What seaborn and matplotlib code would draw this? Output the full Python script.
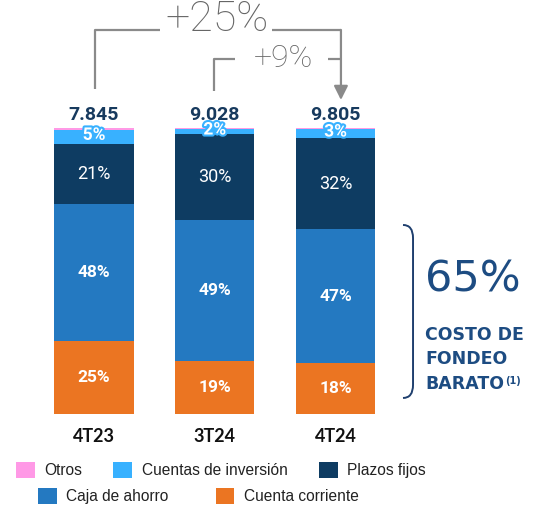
import matplotlib
matplotlib.use('Agg')
import matplotlib.pyplot as plt
import matplotlib.patheffects as pe
from matplotlib.patches import Patch, PathPatch
from matplotlib.path import Path
import pandas as pd
import seaborn as sns

# data (share of deposits, %)
periodos = ['4T23', '3T24', '4T24']
totales = ['7.845', '9.028', '9.805']
otros = [0.6, 0.4, 0.4]
cuentas_inversion = [5.1, 1.8, 3.2]
plazos_fijos = [20.9, 29.8, 31.7]
caja_ahorro = [48.0, 49.3, 46.9]
cuenta_corriente = [25.4, 18.7, 17.8]

series = ['Otros', 'Cuentas de inversión', 'Plazos fijos', 'Caja de ahorro', 'Cuenta corriente']
colores = {'Otros': '#ff99e6', 'Cuentas de inversión': '#38b1ff', 'Plazos fijos': '#0e3c62',
           'Caja de ahorro': '#2479c1', 'Cuenta corriente': '#eb7522'}

df = pd.DataFrame({'periodo': periodos, 'Otros': otros, 'Cuentas de inversión': cuentas_inversion,
                   'Plazos fijos': plazos_fijos, 'Caja de ahorro': caja_ahorro,
                   'Cuenta corriente': cuenta_corriente})

sns.set_theme(style='white')
plt.rcParams['font.family'] = ['Roboto', 'DejaVu Sans']

fig = plt.figure(figsize=(5.49, 5.08), dpi=100)
ax = fig.add_axes([0, 0, 1, 1])

# stacked bars: draw cumulative sums, tallest first
stack = series[::-1]  # bottom -> top
cum = df[stack].cumsum(axis=1)
for s in series:
    sns.barplot(x=df['periodo'], y=cum[s], color=colores[s], saturation=1, width=0.655,
                order=periodos, ax=ax, linewidth=0)

ax.set_xlim(-0.7785, 3.768)
ax.set_ylim(-32.87, 144.76)
ax.set_xlabel('')
ax.set_ylabel('')
ax.set_xticks([])
ax.set_yticks([])
sns.despine(ax=ax, left=True, bottom=True)

# category labels under the bars
for i, p in enumerate(periodos):
    ax.text(i, -7.7, p, ha='center', va='center', fontsize=13, fontweight='bold',
            color='#111111', family=['Lato', 'DejaVu Sans'])

# segment labels
for i in range(len(periodos)):
    base = 0
    for s in stack:
        v = df[s][i]
        mid = base + v / 2
        base += v
        if s == 'Otros':
            continue
        txt = f'{v:.0f}%'
        if s == 'Plazos fijos':
            ax.text(i, mid, txt, ha='center', va='center', color='white', fontsize=13)
        elif s == 'Cuentas de inversión':
            ax.text(i, mid + 0.6, txt, ha='center', va='center', color='white', fontsize=12.5,
                    fontweight='bold',
                    path_effects=[pe.withStroke(linewidth=3, foreground='#38b1ff')])
        else:
            ax.text(i, mid, txt, ha='center', va='center', color='white', fontsize=12.5,
                    fontweight='bold')
    ax.annotate(totales[i], (i, base), xytext=(0, 3), textcoords='offset points',
                ha='center', va='bottom', fontsize=14, fontweight='bold', color='#173a5e')

# growth brackets
gris = '#8a8a8a'
kw = dict(color=gris, lw=1.6, clip_on=False, solid_capstyle='butt')
ax.plot([0.008, 0.008, 0.546], [113.6, 134.3, 134.3], **kw)
ax.plot([1.473, 2.045], [134.3, 134.3], **kw)
ax.annotate('', xy=(2.045, 109.8), xytext=(2.045, 134.3),
            arrowprops=dict(arrowstyle='-|>,head_width=0.35,head_length=0.7', color=gris, lw=1.6,
                            shrinkA=0, shrinkB=0))
ax.text(1.02, 138.0, '+25%', ha='center', va='center', fontsize=31, color='#666666', fontweight='light')
ax.plot([0.994, 0.994, 1.168], [112.9, 124.1, 124.1], **kw)
ax.plot([1.938, 2.045], [124.1, 124.1], **kw)
ax.text(1.565, 124.2, '+9%', ha='center', va='center', fontsize=23, color='#666666', fontweight='light')

# brace on the right
verts = [(2.559, 66.1), (2.642, 66.1), (2.642, 61.5), (2.642, 10.2), (2.642, 5.6), (2.559, 5.6)]
codes = [Path.MOVETO, Path.CURVE3, Path.CURVE3, Path.LINETO, Path.CURVE3, Path.CURVE3]
ax.add_patch(PathPatch(Path(verts, codes), fill=False, edgecolor='#1f3f6e', lw=1.4, clip_on=False))

azul = '#1d4c82'
fam = ['DejaVu Sans']
ax.text(2.741, 46.9, '65%', ha='left', va='center', fontsize=31, color=azul,
        family=fam, fontweight='normal')
ax.text(2.741, 27.6, 'COSTO DE', ha='left', va='center', fontsize=12.5, color=azul,
        family=fam, fontweight='bold')
ax.text(2.741, 19.2, 'FONDEO', ha='left', va='center', fontsize=12.5, color=azul,
        family=fam, fontweight='bold')
t = ax.text(2.741, 10.6, 'BARATO', ha='left', va='center', fontsize=12.5, color=azul,
            family=fam, fontweight='bold')
ax.annotate('(1)', xy=(1, 0.95), xycoords=t, ha='left', va='top', fontsize=7, color=azul,
            family=fam, fontweight='bold', xytext=(0.5, 0), textcoords='offset points')

# legend in two rows
h = {s: Patch(facecolor=colores[s], edgecolor='none') for s in series}
leg_kw = dict(frameon=False, handlelength=1.2, handleheight=1.2, handletextpad=0.63,
              borderpad=0, borderaxespad=0, loc='center left',
              prop={'family': ['Liberation Sans', 'DejaVu Sans'], 'size': 11.2})
l1 = fig.legend([h[s] for s in series[:3]], series[:3], ncol=3, columnspacing=2.0,
                bbox_to_anchor=(16 / 549, 1 - 470 / 508), **leg_kw)
l2 = fig.legend([h[s] for s in series[3:]], series[3:], ncol=2, columnspacing=3.0,
                bbox_to_anchor=(38 / 549, 1 - 496 / 508), **leg_kw)
for l in (l1, l2):
    for tx in l.get_texts():
        tx.set_color('#222222')

fig.savefig('out.png', dpi=100)
